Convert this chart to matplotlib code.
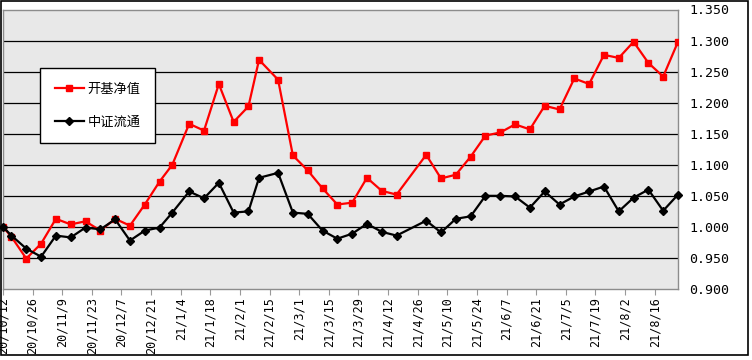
import matplotlib
matplotlib.use("Agg")
import matplotlib.pyplot as plt
import matplotlib.dates as mdates
from matplotlib.patches import Rectangle
import pandas as pd

plt.rcParams['font.family'] = ['Noto Sans CJK SC', 'DejaVu Sans']

dates = ["2020-10-12", "2020-10-16", "2020-10-23", "2020-10-30", "2020-11-06", "2020-11-13",
         "2020-11-20", "2020-11-27", "2020-12-04", "2020-12-11", "2020-12-18", "2020-12-25",
         "2020-12-31", "2021-01-08", "2021-01-15", "2021-01-22", "2021-01-29", "2021-02-05",
         "2021-02-10", "2021-02-19", "2021-02-26", "2021-03-05", "2021-03-12", "2021-03-19",
         "2021-03-26", "2021-04-02", "2021-04-09", "2021-04-16", "2021-04-30", "2021-05-07",
         "2021-05-14", "2021-05-21", "2021-05-28", "2021-06-04", "2021-06-11", "2021-06-18",
         "2021-06-25", "2021-07-02", "2021-07-09", "2021-07-16", "2021-07-23", "2021-07-30",
         "2021-08-06", "2021-08-13", "2021-08-20", "2021-08-27"]

fund_nav = [1.000, 0.984, 0.949, 0.973, 1.013, 1.004, 1.009, 0.994, 1.013, 1.002, 1.036, 1.073,
            1.100, 1.166, 1.155, 1.230, 1.169, 1.194, 1.269, 1.237, 1.115, 1.091, 1.062, 1.036,
            1.039, 1.079, 1.058, 1.052, 1.116, 1.078, 1.084, 1.113, 1.147, 1.152, 1.165, 1.157,
            1.195, 1.189, 1.239, 1.230, 1.277, 1.272, 1.298, 1.264, 1.242, 1.298]

index_val = [1.000, 0.986, 0.965, 0.952, 0.986, 0.983, 0.999, 0.996, 1.012, 0.978, 0.994, 0.999,
             1.023, 1.057, 1.046, 1.071, 1.023, 1.025, 1.079, 1.087, 1.023, 1.021, 0.994, 0.981,
             0.989, 1.005, 0.992, 0.986, 1.010, 0.991, 1.013, 1.017, 1.050, 1.050, 1.049, 1.031,
             1.057, 1.036, 1.049, 1.057, 1.065, 1.025, 1.047, 1.060, 1.026, 1.052]

series_names = ["开基净值", "中证流通"]
y_ticks = [0.900, 0.950, 1.000, 1.050, 1.100, 1.150, 1.200, 1.250, 1.300, 1.350]

x = pd.to_datetime(dates)

W, H = 752, 360
fig = plt.figure(figsize=(W / 100, H / 100), dpi=100)
fig.patch.set_facecolor("white")

ax = fig.add_axes([3 / W, (H - 289) / H, 675 / W, (289 - 9.5) / H])
ax.set_facecolor("#e8e8e8")

ax.plot(x, fund_nav, color="#ff0000", lw=1.6, marker="s", ms=4.5, mec="#ff0000",
        mfc="#ff0000", label=series_names[0], zorder=4)
ax.plot(x, index_val, color="black", lw=1.6, marker="D", ms=4.5, mec="black",
        mfc="black", label=series_names[1], zorder=5, clip_on=False)

ax.set_ylim(y_ticks[0], y_ticks[-1])
ax.set_yticks(y_ticks)
ax.set_yticklabels([f"{v:.3f}" for v in y_ticks], family="DejaVu Sans Mono", fontsize=9.5)
ax.yaxis.tick_right()
ax.tick_params(axis="y", length=0, pad=8)
for v in y_ticks[1:-1]:
    ax.axhline(v, color="black", lw=0.9, zorder=2)

ax.set_xlim(x[0], x[-1])
tick_dates = pd.date_range(x[0], x[-1], freq="14D")
ax.set_xticks(tick_dates)
ax.set_xticklabels([f"{d.year % 100}/{d.month}/{d.day}" for d in tick_dates],
                   rotation=90, family="DejaVu Sans Mono", fontsize=8.5, va="top")
ax.tick_params(axis="x", length=4, color="#999999", pad=2)

for s in ax.spines.values():
    s.set_color("#8c8c8c")
    s.set_linewidth(1.0)

leg = ax.legend(loc="upper left", bbox_to_anchor=(40 / W, 1 - 68 / H), bbox_transform=fig.transFigure,
                frameon=True, fancybox=False, framealpha=1, edgecolor="black", fontsize=9.5,
                labelspacing=1.5, borderpad=1.1, handlelength=2.2, handletextpad=0.3,
                borderaxespad=0)
leg.get_frame().set_linewidth(1.0)
leg.set_zorder(10)

fig.patches.append(Rectangle((1 / W, 5 / H), 747 / W, 354 / H, transform=fig.transFigure,
                             fill=False, edgecolor="black", lw=1.2))

fig.savefig("out.png", dpi=100)
